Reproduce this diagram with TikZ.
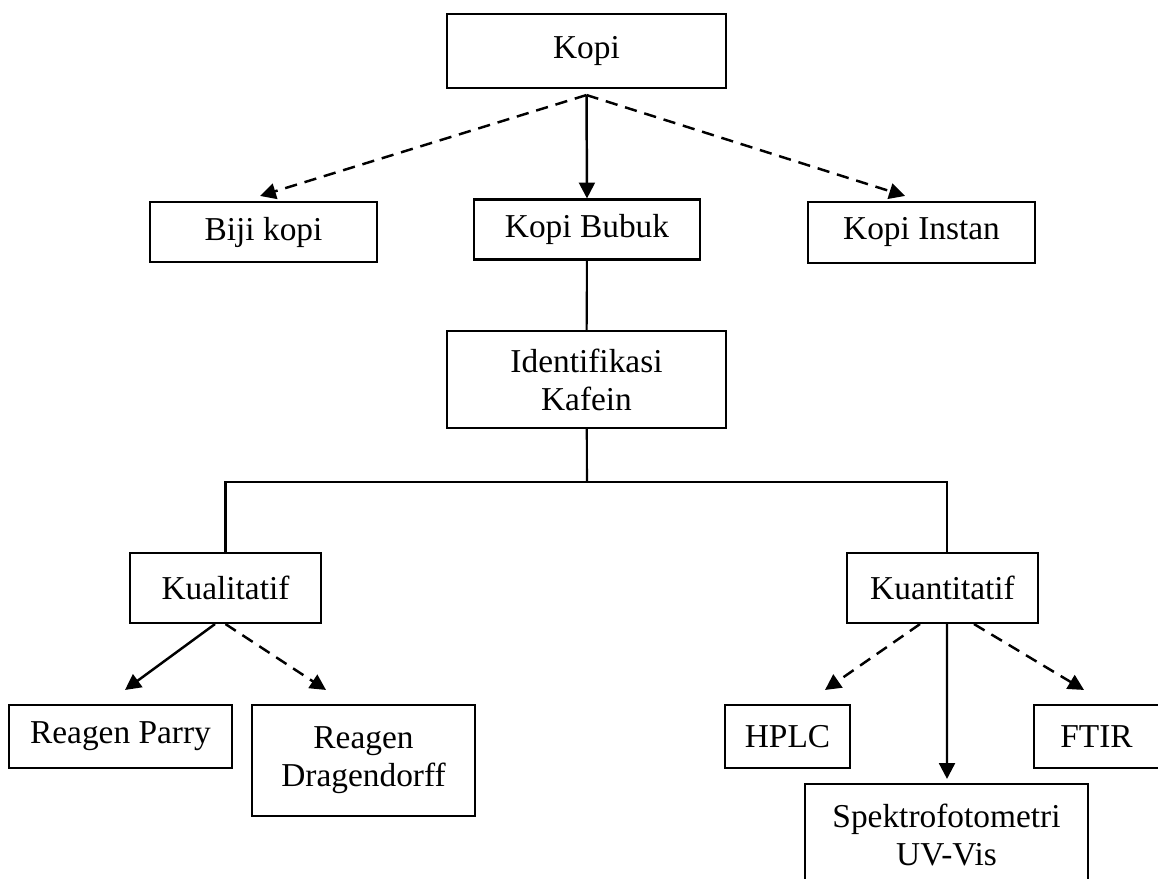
\documentclass[tikz,border=0pt]{standalone}
\usepackage{fontspec}
\setmainfont{Liberation Serif}
\usetikzlibrary{arrows.meta}

\begin{document}
\begin{tikzpicture}[x=0.02cm, y=-0.02cm,
  box/.style = {draw, line width=1.2pt, inner sep=0pt, align=center,
    font=\fontsize{19pt}{21.6pt}\selectfont},
  solidarrow/.style = {line width=1.4pt, -{Triangle[length=9pt,width=9pt]}},
  dasharrow/.style = {solidarrow, dash pattern=on 7pt off 4.5pt}
]

\useasboundingbox (0,0) rectangle (1158,878);
\clip (0,0) rectangle (1158,878);

\node [box, minimum width=5.58cm, minimum height=1.48cm] (kopi) at (586.5,51) {Kopi};

\node [box, minimum width=4.54cm, minimum height=1.2cm] (biji) at (263.5,232) {Biji kopi};
\node [box, minimum width=4.52cm, minimum height=1.2cm] (bubuk) at (587,229.5) {Kopi Bubuk};
\node [box, minimum width=4.54cm, minimum height=1.22cm] (instan) at (921.5,232.5) {Kopi Instan};

\node [box, minimum width=5.58cm, minimum height=1.94cm] (ident) at (586.5,379.5) {Identifikasi\\Kafein};

\node [box, minimum width=3.82cm, minimum height=1.4cm] (kual) at (225.5,588) {Kualitatif};
\node [box, minimum width=3.82cm, minimum height=1.4cm] (kuan) at (942.5,588) {Kuantitatif};

\node [box, minimum width=4.46cm, minimum height=1.26cm] (parry) at (120.5,736.5) {Reagen Parry};
\node [box, minimum width=4.46cm, minimum height=2.22cm] (drag) at (363.5,760.5) {Reagen\\Dragendorff};

\node [box, minimum width=2.5cm, minimum height=1.26cm] (hplc) at (787.5,736.5) {HPLC};
\node [box, minimum width=2.5cm, minimum height=1.26cm] (ftir) at (1096.5,736.5) {FTIR};
\node [box, minimum width=5.66cm, minimum height=2.04cm] (spektro) at (946.5,835) {Spektrofotometri\\UV-Vis};

\coordinate (split) at (587,482);

% dari kopi
\draw [dasharrow] ([yshift=-0.12cm]kopi.south) -- ([xshift=-0.07cm,yshift=0.1cm]biji.north);
\draw [solidarrow] ([yshift=-0.12cm]kopi.south) -- (bubuk.north);
\draw [dasharrow] ([yshift=-0.12cm]kopi.south) -- ([xshift=-0.33cm,yshift=0.1cm]instan.north);

\draw [line width=1.2pt] (bubuk) -- (ident);
\draw [line width=1.2pt] (ident) -- (split);
\draw [line width=1.2pt] (kual.north) |- (split) -| ([xshift=0.09cm]kuan.north);

% kualitatif
\draw [solidarrow] ([xshift=-0.21cm]kual.south) -- ([xshift=0.09cm,yshift=0.28cm]parry.north);
\draw [dasharrow] (kual.south) -- ([xshift=-0.75cm,yshift=0.28cm]drag.north);

% kuantitatif
\draw [dasharrow] ([xshift=-0.45cm]kuan.south) -- ([xshift=0.75cm,yshift=0.28cm]hplc.north);
\draw [solidarrow] ([xshift=0.09cm]kuan.south) -- ([xshift=0.01cm,yshift=0.08cm]spektro.north);
\draw [dasharrow] ([xshift=0.63cm]kuan.south) -- ([xshift=-0.25cm,yshift=0.28cm]ftir.north);

\end{tikzpicture}
\end{document}
